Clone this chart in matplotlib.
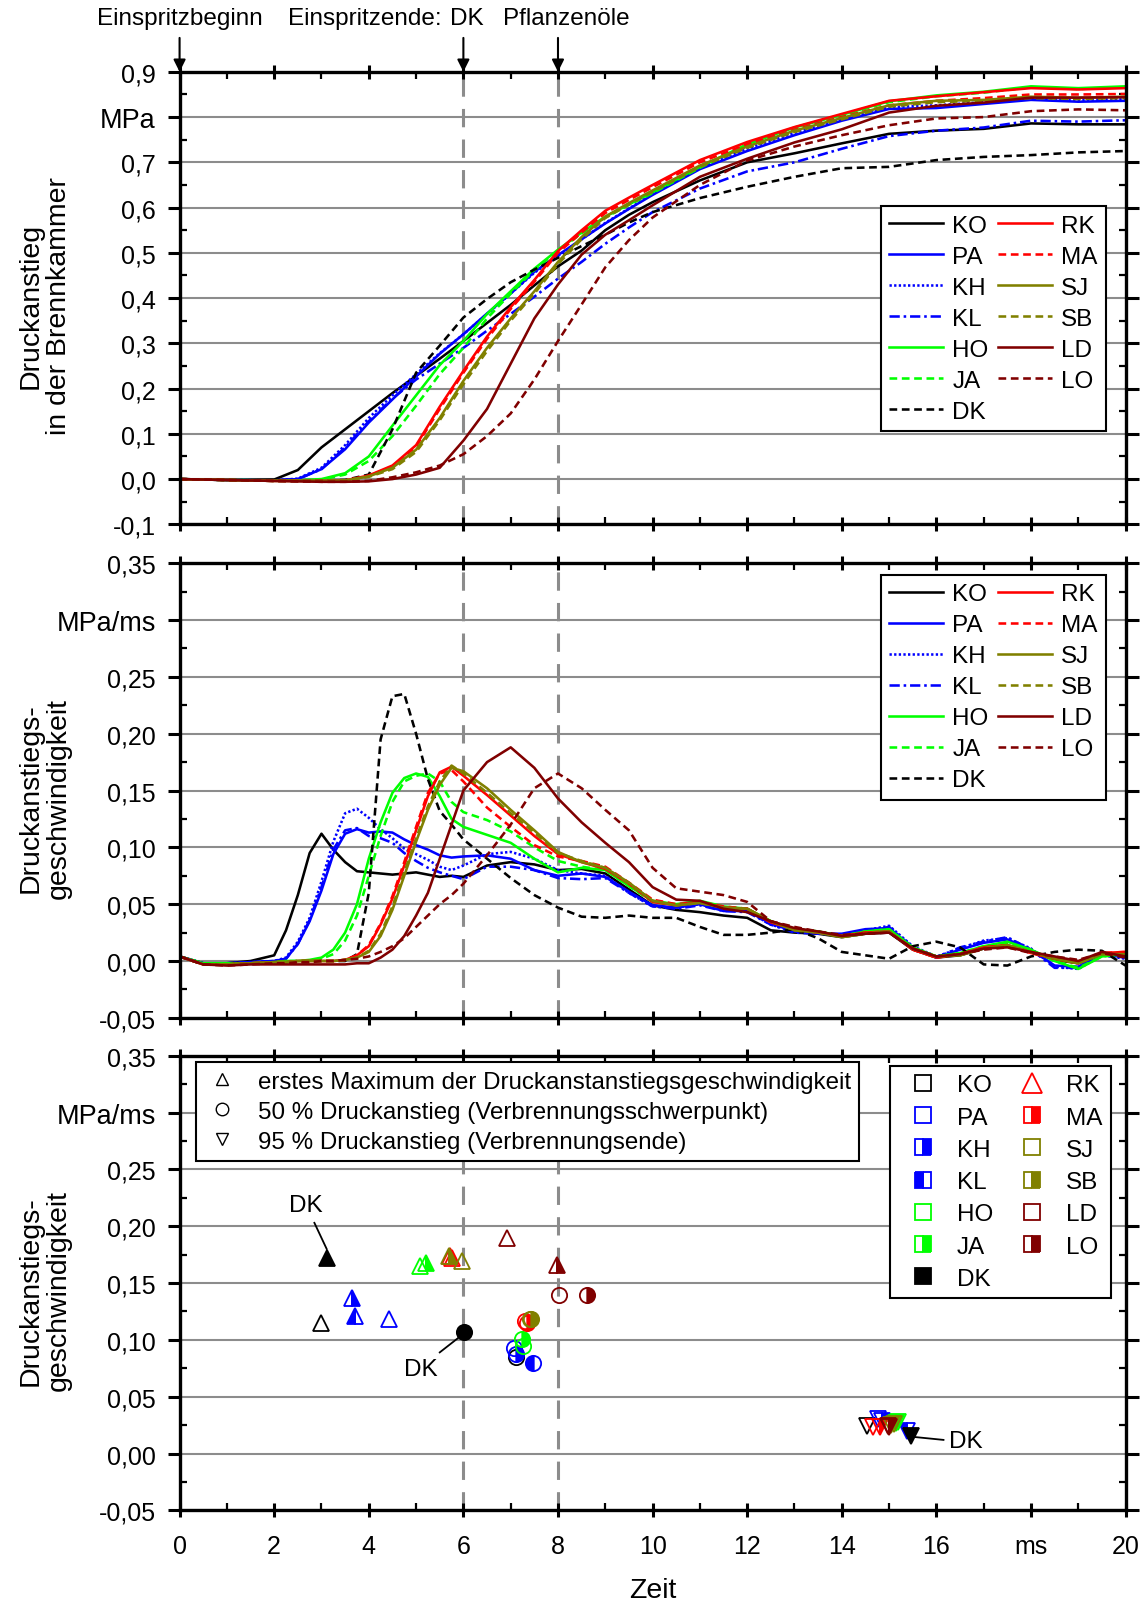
import matplotlib
matplotlib.use('Agg')
import matplotlib.pyplot as plt
from matplotlib.lines import Line2D

plt.rcParams['font.family'] = ['Liberation Sans', 'DejaVu Sans']

# ---------------- data ----------------
names = ['KO', 'PA', 'KH', 'KL', 'HO', 'JA', 'DK', 'RK', 'MA', 'SJ', 'SB', 'LD', 'LO']

# Panel 1: pressure rise (MPa)
t1 = [0, 1, 2, 2.5, 3, 3.5, 4, 4.5, 5, 5.5, 6, 6.5, 7, 7.5, 8, 8.5, 9, 9.5, 10,
      11, 12, 13, 14, 15, 16, 17, 18, 19, 20]
p_KO = [0, -0.002, -0.001, 0.02, 0.07, 0.11, 0.15, 0.19, 0.228, 0.266, 0.305, 0.345, 0.385, 0.428, 0.47, 0.505, 0.55, 0.584, 0.612, 0.66, 0.70, 0.72, 0.742, 0.763, 0.77, 0.774, 0.786, 0.784, 0.784]
p_PA = [0, -0.002, -0.003, 0.0, 0.022, 0.066, 0.125, 0.176, 0.227, 0.277, 0.32, 0.366, 0.41, 0.458, 0.495, 0.53, 0.565, 0.597, 0.628, 0.685, 0.725, 0.76, 0.792, 0.818, 0.82, 0.829, 0.838, 0.834, 0.836]
p_KH = [0, -0.002, -0.003, 0.001, 0.025, 0.075, 0.135, 0.185, 0.232, 0.278, 0.32, 0.365, 0.41, 0.456, 0.493, 0.53, 0.566, 0.598, 0.63, 0.688, 0.73, 0.765, 0.795, 0.822, 0.826, 0.833, 0.842, 0.838, 0.84]
p_KL = [0, -0.002, -0.003, 0.0, 0.022, 0.07, 0.128, 0.178, 0.22, 0.255, 0.29, 0.328, 0.365, 0.403, 0.443, 0.48, 0.52, 0.556, 0.59, 0.642, 0.68, 0.70, 0.73, 0.758, 0.77, 0.777, 0.792, 0.79, 0.793]
p_HO = [0, -0.002, -0.003, -0.003, 0.0, 0.013, 0.05, 0.118, 0.185, 0.252, 0.305, 0.365, 0.415, 0.465, 0.507, 0.545, 0.58, 0.607, 0.634, 0.69, 0.74, 0.777, 0.805, 0.835, 0.848, 0.856, 0.868, 0.864, 0.868]
p_JA = [0, -0.002, -0.003, -0.003, -0.001, 0.01, 0.04, 0.095, 0.162, 0.232, 0.29, 0.355, 0.41, 0.462, 0.505, 0.543, 0.578, 0.606, 0.632, 0.688, 0.738, 0.775, 0.804, 0.833, 0.846, 0.854, 0.866, 0.862, 0.866]
p_DK = [0, -0.002, -0.004, -0.004, -0.003, -0.002, 0.01, 0.11, 0.235, 0.295, 0.357, 0.398, 0.435, 0.463, 0.489, 0.515, 0.54, 0.567, 0.59, 0.621, 0.646, 0.668, 0.687, 0.69, 0.705, 0.712, 0.716, 0.722, 0.725]
p_RK = [0, -0.002, -0.004, -0.004, -0.004, -0.003, 0.008, 0.03, 0.075, 0.16, 0.239, 0.315, 0.38, 0.44, 0.504, 0.55, 0.593, 0.622, 0.65, 0.705, 0.745, 0.778, 0.807, 0.836, 0.846, 0.855, 0.864, 0.861, 0.864]
p_MA = [0, -0.002, -0.004, -0.004, -0.004, -0.003, 0.007, 0.028, 0.072, 0.155, 0.235, 0.31, 0.376, 0.436, 0.5, 0.545, 0.588, 0.617, 0.645, 0.7, 0.74, 0.772, 0.80, 0.826, 0.836, 0.842, 0.85, 0.85, 0.851]
p_SJ = [0, -0.002, -0.004, -0.004, -0.004, -0.003, 0.006, 0.025, 0.065, 0.135, 0.217, 0.29, 0.355, 0.415, 0.48, 0.535, 0.58, 0.61, 0.638, 0.693, 0.735, 0.77, 0.798, 0.826, 0.836, 0.838, 0.845, 0.843, 0.845]
p_SB = [0, -0.002, -0.004, -0.004, -0.004, -0.003, 0.005, 0.022, 0.06, 0.13, 0.21, 0.283, 0.35, 0.41, 0.475, 0.53, 0.577, 0.607, 0.635, 0.69, 0.732, 0.767, 0.795, 0.823, 0.833, 0.836, 0.842, 0.84, 0.842]
p_LD = [0, -0.002, -0.004, -0.005, -0.006, -0.006, -0.005, 0.0, 0.01, 0.025, 0.085, 0.155, 0.255, 0.355, 0.43, 0.496, 0.54, 0.572, 0.605, 0.668, 0.708, 0.744, 0.773, 0.81, 0.825, 0.832, 0.843, 0.843, 0.844]
p_LO = [0, -0.002, -0.004, -0.005, -0.006, -0.006, -0.004, 0.004, 0.015, 0.03, 0.055, 0.095, 0.145, 0.22, 0.305, 0.386, 0.468, 0.528, 0.578, 0.65, 0.704, 0.735, 0.76, 0.782, 0.797, 0.80, 0.813, 0.817, 0.815]

# Panel 2: rate of pressure rise (MPa/ms)
t2 = [0, 0.5, 1, 1.5, 2, 2.25, 2.5, 2.75, 3, 3.25, 3.5, 3.75, 4, 4.25, 4.5, 4.75, 5, 5.25,
      5.5, 5.75, 6, 6.5, 7, 7.5, 8, 8.5, 9, 9.5, 10, 10.5, 11, 11.5, 12, 12.5, 13, 13.5,
      14, 14.5, 15, 15.5, 16, 16.5, 17, 17.5, 18, 18.5, 19, 19.5, 20]
r_KO = [0.004, -0.002, -0.002, 0.000, 0.005, 0.027, 0.058, 0.095, 0.112, 0.098, 0.087, 0.079, 0.078, 0.077, 0.076, 0.077, 0.078, 0.076, 0.074, 0.075, 0.074, 0.084, 0.087, 0.085, 0.080, 0.081, 0.077, 0.063,
        0.049, 0.045, 0.043, 0.040, 0.038, 0.027, 0.025, 0.024, 0.021, 0.024, 0.025, 0.010, 0.003, 0.005, 0.011, 0.013, 0.009, 0.001, -0.002, 0.005, 0.005]
r_PA = [0.004, -0.002, -0.002, -0.001, 0.000, 0.002, 0.015, 0.035, 0.062, 0.094, 0.112, 0.116, 0.113, 0.114, 0.113, 0.107, 0.102, 0.098, 0.093, 0.091, 0.092, 0.093, 0.090, 0.080, 0.075, 0.077, 0.074, 0.061,
        0.049, 0.047, 0.050, 0.044, 0.044, 0.033, 0.026, 0.024, 0.024, 0.028, 0.029, 0.012, 0.003, 0.010, 0.016, 0.019, 0.010, -0.004, -0.005, 0.006, 0.003]
r_KH = [0.004, -0.002, -0.002, -0.001, 0.000, 0.003, 0.017, 0.038, 0.070, 0.105, 0.130, 0.134, 0.126, 0.116, 0.108, 0.099, 0.094, 0.089, 0.083, 0.080, 0.084, 0.094, 0.096, 0.090, 0.080, 0.077, 0.075, 0.060,
        0.048, 0.047, 0.050, 0.045, 0.044, 0.032, 0.026, 0.025, 0.023, 0.027, 0.031, 0.013, 0.004, 0.011, 0.018, 0.020, 0.011, -0.005, -0.007, 0.005, 0.002]
r_KL = [0.004, -0.002, -0.002, -0.001, 0.000, 0.002, 0.015, 0.036, 0.065, 0.098, 0.115, 0.117, 0.110, 0.108, 0.104, 0.095, 0.088, 0.082, 0.078, 0.075, 0.072, 0.083, 0.083, 0.080, 0.073, 0.072, 0.073, 0.060,
        0.048, 0.046, 0.049, 0.044, 0.043, 0.032, 0.025, 0.024, 0.023, 0.026, 0.030, 0.012, 0.003, 0.012, 0.017, 0.021, 0.010, -0.006, -0.006, 0.006, 0.003]
r_HO = [0.004, -0.002, -0.002, -0.002, -0.001, 0.000, 0.000, 0.001, 0.003, 0.010, 0.025, 0.050, 0.090, 0.122, 0.148, 0.161, 0.165, 0.162, 0.145, 0.125, 0.118, 0.111, 0.104, 0.090, 0.078, 0.082, 0.080, 0.066,
        0.053, 0.050, 0.053, 0.048, 0.046, 0.035, 0.028, 0.026, 0.022, 0.026, 0.028, 0.012, 0.004, 0.007, 0.013, 0.017, 0.010, 0.000, -0.007, 0.004, 0.006]
r_JA = [0.004, -0.002, -0.002, -0.002, -0.001, 0.000, 0.000, 0.000, 0.002, 0.006, 0.018, 0.040, 0.075, 0.110, 0.140, 0.158, 0.163, 0.165, 0.158, 0.140, 0.131, 0.124, 0.114, 0.100, 0.088, 0.083, 0.080, 0.066,
        0.052, 0.049, 0.052, 0.047, 0.046, 0.035, 0.028, 0.026, 0.022, 0.026, 0.028, 0.012, 0.004, 0.007, 0.013, 0.016, 0.010, 0.000, -0.006, 0.004, 0.006]
r_DK = [0.004, -0.003, -0.003, -0.002, -0.002, -0.001, -0.001, -0.001, 0.000, 0.000, 0.000, 0.006, 0.060, 0.195, 0.233, 0.235, 0.200, 0.160, 0.132, 0.120, 0.107, 0.090, 0.073, 0.058, 0.047, 0.039, 0.038, 0.040,
        0.038, 0.038, 0.030, 0.023, 0.023, 0.025, 0.028, 0.020, 0.008, 0.005, 0.002, 0.013, 0.017, 0.012, -0.003, -0.004, 0.004, 0.008, 0.010, 0.009, -0.004]
r_RK = [0.004, -0.003, -0.003, -0.002, -0.001, -0.001, 0.000, 0.000, 0.000, 0.000, 0.001, 0.005, 0.013, 0.032, 0.055, 0.084, 0.115, 0.145, 0.166, 0.171, 0.163, 0.146, 0.128, 0.110, 0.094, 0.087, 0.081, 0.068,
        0.052, 0.049, 0.052, 0.047, 0.046, 0.034, 0.028, 0.025, 0.022, 0.025, 0.026, 0.010, 0.003, 0.006, 0.012, 0.014, 0.007, 0.002, -0.002, 0.007, 0.008]
r_MA = [0.004, -0.003, -0.003, -0.002, -0.001, -0.001, 0.000, 0.000, 0.000, 0.000, 0.001, 0.005, 0.014, 0.033, 0.057, 0.087, 0.118, 0.148, 0.165, 0.168, 0.158, 0.135, 0.118, 0.102, 0.092, 0.088, 0.083, 0.069,
        0.054, 0.050, 0.052, 0.048, 0.046, 0.034, 0.028, 0.025, 0.022, 0.025, 0.026, 0.010, 0.003, 0.006, 0.012, 0.014, 0.007, 0.002, -0.002, 0.007, 0.008]
r_SJ = [0.004, -0.003, -0.003, -0.002, -0.001, -0.001, 0.000, 0.000, 0.000, 0.000, 0.001, 0.003, 0.008, 0.022, 0.045, 0.075, 0.105, 0.133, 0.155, 0.170, 0.167, 0.152, 0.133, 0.115, 0.096, 0.087, 0.082, 0.069,
        0.053, 0.049, 0.051, 0.047, 0.046, 0.035, 0.027, 0.025, 0.021, 0.024, 0.026, 0.011, 0.004, 0.005, 0.011, 0.014, 0.008, 0.002, -0.002, 0.006, 0.006]
r_SB = [0.004, -0.003, -0.003, -0.002, -0.001, -0.001, 0.000, 0.000, 0.000, 0.000, 0.001, 0.003, 0.009, 0.024, 0.048, 0.078, 0.108, 0.136, 0.158, 0.172, 0.165, 0.148, 0.130, 0.113, 0.095, 0.088, 0.082, 0.068,
        0.053, 0.049, 0.051, 0.047, 0.046, 0.035, 0.027, 0.025, 0.021, 0.024, 0.026, 0.011, 0.004, 0.005, 0.011, 0.014, 0.008, 0.002, -0.002, 0.006, 0.006]
r_LD = [0.004, -0.003, -0.004, -0.003, -0.003, -0.003, -0.003, -0.003, -0.003, -0.003, -0.003, -0.002, -0.002, 0.003, 0.010, 0.022, 0.040, 0.060, 0.090, 0.120, 0.150, 0.175, 0.188, 0.170, 0.143, 0.122, 0.104, 0.087,
        0.065, 0.054, 0.053, 0.046, 0.043, 0.035, 0.029, 0.026, 0.022, 0.024, 0.025, 0.011, 0.004, 0.006, 0.011, 0.012, 0.008, 0.004, 0.000, 0.008, 0.004]
r_LO = [0.004, -0.003, -0.004, -0.003, -0.002, -0.002, -0.001, -0.001, 0.000, 0.000, 0.001, 0.002, 0.004, 0.008, 0.013, 0.020, 0.030, 0.040, 0.050, 0.058, 0.068, 0.093, 0.120, 0.152, 0.165, 0.152, 0.133, 0.115,
        0.082, 0.064, 0.061, 0.058, 0.052, 0.035, 0.030, 0.026, 0.023, 0.024, 0.025, 0.011, 0.004, 0.006, 0.010, 0.012, 0.007, 0.004, 0.001, 0.007, 0.003]

# Panel 3: characteristic points (time ms, rate MPa/ms)
max_t = [2.98, 4.43, 3.64, 3.71, 5.08, 5.22, 3.12, 5.75, 5.72, 5.98, 5.70, 6.93, 7.97]
max_v = [0.115, 0.118, 0.137, 0.121, 0.165, 0.168, 0.172, 0.172, 0.174, 0.169, 0.174, 0.190, 0.166]
half_t = [7.11, 7.08, 7.12, 7.47, 7.25, 7.23, 6.02, 7.30, 7.35, 7.40, 7.44, 8.03, 8.62]
half_v = [0.085, 0.093, 0.088, 0.080, 0.095, 0.101, 0.107, 0.117, 0.115, 0.118, 0.118, 0.1395, 0.1395]
end_t = [14.53, 14.77, 14.85, 15.37, 15.19, 15.15, 15.46, 14.67, 14.80, 15.10, 15.05, 14.98, 15.00]
end_v = [0.0245, 0.030, 0.029, 0.020, 0.0275, 0.027, 0.0157, 0.023, 0.023, 0.026, 0.025, 0.024, 0.023]

press = dict(KO=p_KO, PA=p_PA, KH=p_KH, KL=p_KL, HO=p_HO, JA=p_JA, DK=p_DK,
             RK=p_RK, MA=p_MA, SJ=p_SJ, SB=p_SB, LD=p_LD, LO=p_LO)
rate = dict(KO=r_KO, PA=r_PA, KH=r_KH, KL=r_KL, HO=r_HO, JA=r_JA, DK=r_DK,
            RK=r_RK, MA=r_MA, SJ=r_SJ, SB=r_SB, LD=r_LD, LO=r_LO)

# ---------------- styles ----------------
BLUE, GREEN, RED, OLIVE, DRED = '#0000FF', '#00FF00', '#FF0000', '#808000', '#800000'
colors = dict(KO='k', PA=BLUE, KH=BLUE, KL=BLUE, HO=GREEN, JA=GREEN, DK='k',
              RK=RED, MA=RED, SJ=OLIVE, SB=OLIVE, LD=DRED, LO=DRED)
DASH = (0, (3.0, 1.8))
DOT = (0, (0.9, 0.9))
DASHDOT = (0, (4.0, 1.5, 1.0, 1.5))
lstyles = dict(KO='-', PA='-', KH=DOT, KL=DASHDOT, HO='-', JA=DASH, DK=DASH,
               RK='-', MA=DASH, SJ='-', SB=DASH, LD='-', LO=DASH)
fills = dict(KO='none', PA='none', KH='right', KL='left', HO='none', JA='right', DK='full',
             RK='none', MA='right', SJ='none', SB='right', LD='none', LO='right')

FS_TICK = 18
FS_UNIT = 19.5
FS_LAB = 20.5
FS_LEG = 17.5
FS_LEG3 = 17.4
LW = 1.85
GRID_C = '#8c8c8c'

fig = plt.figure(figsize=(11.46, 16.08), dpi=100)
L, W = 0.1567, 0.8255
ax1 = fig.add_axes([L, 0.6733, W, 0.2814])
ax2 = fig.add_axes([L, 0.3664, W, 0.2827])
ax3 = fig.add_axes([L, 0.0601, W, 0.2827])


def style_axis(ax, yticks, ylabels, ylim, show_x, unit_idx):
    ax.set_xlim(0, 20)
    ax.set_ylim(*ylim)
    ax.set_yticks(yticks)
    ax.set_yticklabels(ylabels, fontsize=FS_TICK)
    ax.get_yticklabels()[unit_idx].set_fontsize(FS_UNIT)
    step = yticks[1] - yticks[0]
    ax.set_yticks([y + step / 2 for y in yticks[:-1]], minor=True)
    ax.set_xticks(list(range(0, 21, 2)))
    ax.set_xticks(list(range(1, 20, 2)), minor=True)
    if show_x:
        ax.set_xticklabels(['0', '2', '4', '6', '8', '10', '12', '14', '16', 'ms', '20'],
                           fontsize=FS_TICK)
    else:
        ax.set_xticklabels([])
    for s in ax.spines.values():
        s.set_linewidth(2.4)
        s.set_zorder(10)
    ax.tick_params(axis='both', which='major', direction='out', length=9, width=2.2,
                   pad=8)
    ax.tick_params(axis='both', which='minor', direction='in', length=5, width=1.6)
    ax.tick_params(top=True, right=True, which='both')
    ax.tick_params(axis='x', which='major', top=True, direction='inout', length=10, pad=12)
    ax.tick_params(axis='y', which='major', right=True)
    for y in yticks:
        ax.axhline(y, color=GRID_C, lw=1.5, zorder=0)
    for xv in (6, 8):
        ax.axvline(xv, color=GRID_C, lw=2.2, ls=(0, (6, 4)), zorder=0.5)


y1 = [-0.1, 0.0, 0.1, 0.2, 0.3, 0.4, 0.5, 0.6, 0.7, 0.8, 0.9]
y1l = ['-0,1', '0,0', '0,1', '0,2', '0,3', '0,4', '0,5', '0,6', '0,7', 'MPa', '0,9']
y2 = [-0.05, 0.0, 0.05, 0.10, 0.15, 0.20, 0.25, 0.30, 0.35]
y2l = ['-0,05', '0,00', '0,05', '0,10', '0,15', '0,20', '0,25', 'MPa/ms', '0,35']

style_axis(ax1, y1, y1l, (-0.1, 0.9), False, 9)
style_axis(ax2, y2, y2l, (-0.05, 0.35), False, 7)
style_axis(ax3, y2, y2l, (-0.05, 0.35), True, 7)

# ---------------- panel 1 & 2 curves ----------------
for n in names:
    ax1.plot(t1, press[n], color=colors[n], ls=lstyles[n], lw=LW, label=n, zorder=3)
    ax2.plot(t2, rate[n], color=colors[n], ls=lstyles[n], lw=LW, label=n, zorder=3)

leg_kw = dict(ncol=2, fontsize=FS_LEG, frameon=True, fancybox=False, framealpha=1,
              edgecolor='k', handlelength=2.2, handletextpad=0.38, columnspacing=0.4,
              labelspacing=0.37, borderpad=0.35, borderaxespad=0)
lg1 = ax1.legend(loc='upper right', bbox_to_anchor=(0.979, 0.703), **leg_kw)
lg2 = ax2.legend(loc='upper right', bbox_to_anchor=(0.979, 0.975), **leg_kw)
for lg in (lg1, lg2):
    lg.get_frame().set_linewidth(1.5)
    lg.set_zorder(20)

# ---------------- panel 3 markers ----------------
for i, n in enumerate(names):
    c = colors[n]
    common = dict(ls='none', mec=c, mew=1.3, fillstyle=fills[n], mfc=c,
                  markerfacecoloralt='none', zorder=4)
    ax3.plot([max_t[i]], [max_v[i]], marker='^', ms=12, **common)
    ax3.plot([half_t[i]], [half_v[i]], marker='o', ms=11, **common)
    ax3.plot([end_t[i]], [end_v[i]], marker='v', ms=12, **common)

# DK annotations
ax3.text(2.66, 0.219, 'DK', fontsize=FS_LEG, ha='center', va='center')
ax3.plot([2.85, 3.11], [0.203, 0.180], color='k', lw=1.3, zorder=3)
ax3.text(5.10, 0.0746, 'DK', fontsize=FS_LEG, ha='center', va='center')
ax3.plot([5.50, 5.93], [0.089, 0.103], color='k', lw=1.3, zorder=3)
ax3.text(16.27, 0.0108, 'DK', fontsize=FS_LEG, ha='left', va='center')
ax3.plot([16.15, 15.55], [0.012, 0.0145], color='k', lw=1.3, zorder=3)

# text legend (marker meaning)
mh = [Line2D([], [], ls='none', marker=m, ms=9, mec='k', mfc='none', mew=1.0)
      for m in ('^', 'o', 'v')]
ml = ['erstes Maximum der Druckanstanstiegsgeschwindigkeit',
      '50 % Druckanstieg (Verbrennungsschwerpunkt)',
      '95 % Druckanstieg (Verbrennungsende)']
lg3 = ax3.legend(mh, ml, loc='upper left', bbox_to_anchor=(0.0173, 0.986), fontsize=FS_LEG3,
                 frameon=True, fancybox=False, framealpha=1, edgecolor='k',
                 handlelength=1.45, handletextpad=0.75, labelspacing=0.33,
                 borderpad=0.35, borderaxespad=0)
lg3.get_frame().set_linewidth(1.5)
ax3.add_artist(lg3)

# series legend (symbols)
sh = []
for n in names:
    c = colors[n]
    mk = '^' if n == 'RK' else 's'
    sh.append(Line2D([], [], ls='none', marker=mk, ms=11 if mk == 's' else 14, mec=c, mew=1.3,
                     fillstyle=fills[n], mfc=c, markerfacecoloralt='none'))
lg4 = ax3.legend(sh, names, loc='upper right', bbox_to_anchor=(0.9846, 0.9776), ncol=2,
                 fontsize=FS_LEG, frameon=True, fancybox=False, framealpha=1, edgecolor='k',
                 handlelength=2.0, handletextpad=0.4, columnspacing=0.6, labelspacing=0.42,
                 borderpad=0.35, borderaxespad=0)
lg4.get_frame().set_linewidth(1.5)
lg3.set_zorder(20)
lg4.set_zorder(20)

# axis labels
ax1.set_ylabel('Druckanstieg\nin der Brennkammer', fontsize=FS_LAB, linespacing=1.1)
ax2.set_ylabel('Druckanstiegs-\ngeschwindigkeit', fontsize=FS_LAB, linespacing=1.1)
ax3.set_ylabel('Druckanstiegs-\ngeschwindigkeit', fontsize=FS_LAB, linespacing=1.1)
for ax in (ax1, ax2, ax3):
    ax.yaxis.set_label_coords(-0.114, 0.485)
ax3.set_xlabel('Zeit', fontsize=FS_LAB, labelpad=14)

# header annotations
ytop = 1.02
ax1.text(0.0, ytop, 'Einspritzbeginn', fontsize=FS_LEG, ha='center', va='center', clip_on=False)
ax1.text(5.55, ytop, 'Einspritzende:', fontsize=FS_LEG, ha='right', va='center', clip_on=False)
ax1.text(6.07, ytop, 'DK', fontsize=FS_LEG, ha='center', va='center', clip_on=False)
ax1.text(8.18, ytop, 'Pflanzenöle', fontsize=FS_LEG, ha='center', va='center', clip_on=False)
for xv in (0, 6, 8):
    ax1.annotate('', xy=(xv, 0.9), xytext=(xv, 0.975), xycoords='data',
                 arrowprops=dict(arrowstyle='-|>', color='k', lw=1.5, mutation_scale=18,
                                 shrinkA=0, shrinkB=0),
                 annotation_clip=False, zorder=12)

fig.savefig('out.png', dpi=100)
